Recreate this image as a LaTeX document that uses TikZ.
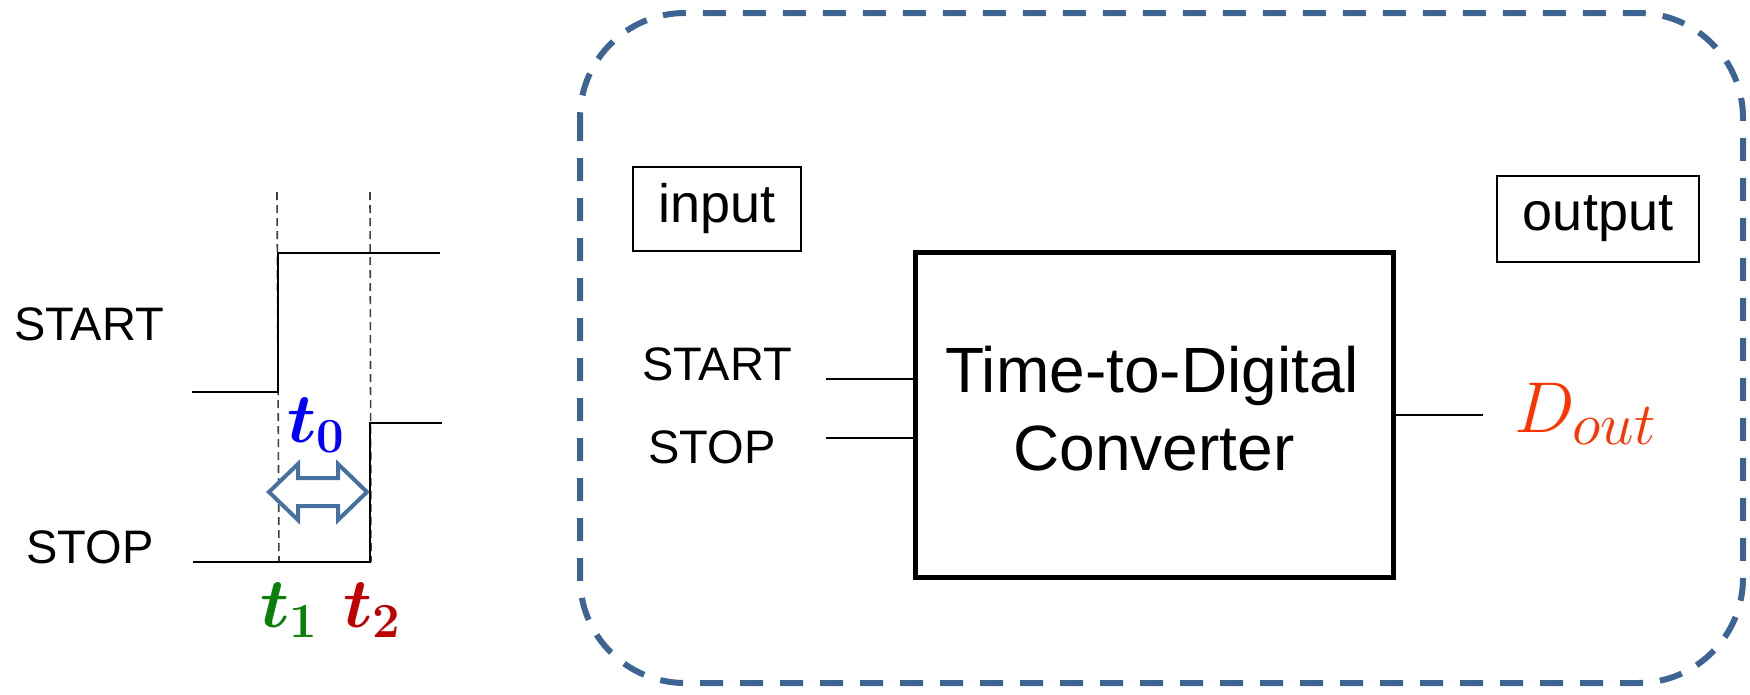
\RequirePackage{fix-cm}
\documentclass[tikz,border=0pt]{standalone}
\usepackage[no-math]{fontspec}
\setmainfont{Liberation Sans}
\definecolor{frameblue}{HTML}{3E6493}
\definecolor{arrowblue}{HTML}{46709E}
\definecolor{tzero}{HTML}{0000FF}
\definecolor{tone}{HTML}{0A7F0A}
\definecolor{ttwo}{HTML}{C00000}
\definecolor{dout}{HTML}{FF3300}
\begin{document}
\begin{tikzpicture}[x=1pt,y=-1pt,
  sig/.style={inner sep=0pt, font=\fontsize{47}{56}\selectfont},
  wave/.style={line width=2.5pt},
  guide/.style={line width=1.6pt, dash pattern=on 8pt off 5pt, black!75},
  tlabel/.style={inner sep=0pt, anchor=base west, font=\fontsize{70}{80}\selectfont\boldmath},
  interval/.style={draw=arrowblue, fill=white, line width=4pt, line join=miter},
  frame/.style={draw=frameblue, line width=6pt, dash pattern=on 23pt off 17pt, rounded corners=105pt},
  tag/.style={draw, line width=2pt, inner sep=0pt, font=\fontsize{54}{62}\selectfont},
  block/.style={draw, line width=5pt, inner sep=0pt},
  blocktext/.style={inner sep=0pt, anchor=base, font=\fontsize{64}{79}\selectfont},
  wire/.style={line width=2pt}]
\useasboundingbox (0,0) rectangle (1750,694);

% ---- timing waveforms ----
\node[sig] (startsig) at (89,324) {START};
\node[sig] (stopsig) at (90,547) {STOP};
\draw[guide] (277,192) -- (279,562);
\draw[guide] (370,192) -- (371,562);
\draw[wave] (192,392) -| (278,253) -- (440,253);
\draw[wave] (193,562) -| (370,423) -- (442,423);

% measured interval
\draw[interval] (269,492) -- (298,464) -- (298,478) -- (338,478) -- (338,464)
  -- (367,492) -- (338,520) -- (338,506) -- (298,506) -- (298,520) -- cycle;
\node[tlabel, text=tzero] (t0) at (287,442) {$t_0$};
\node[tlabel, text=tone] (t1) at (260,627) {$t_1$};
\node[tlabel, text=ttwo] (t2) at (343,627) {$t_2$};

% ---- converter block ----
\draw[frame] (580,13) rectangle (1743,683);
\node[tag, minimum width=168pt, minimum height=84pt] (inbox) at (717,209) {input};
\node[tag, minimum width=202pt, minimum height=86pt] (outbox) at (1598,219) {output};
\node[block, minimum width=478pt, minimum height=325pt] (tdc) at (1154,414.5) {};
\node[blocktext] (tdcname) at (1152,392) {Time-to-Digital};
\node[blocktext] (tdckind) at (1154,470) {Converter};

\node[sig] (startin) at (717,364) {START};
\node[sig] (stopin) at (712,447) {STOP};
\coordinate (startend) at (826,379);
\coordinate (stopend) at (826,438);
\coordinate (outend) at (1483,415);
\draw[wire] (startend) -- (startend -| tdc.west);
\draw[wire] (stopend) -- (stopend -| tdc.west);
\draw[wire] (outend -| tdc.east) -- (outend);
\node[inner sep=0pt, anchor=base west, text=dout, font=\fontsize{72}{84}\selectfont] (dout) at (1514,432)
  {$D_{\mbox{\fontsize{60}{64}\selectfont$out$}}$};
\end{tikzpicture}
\end{document}
